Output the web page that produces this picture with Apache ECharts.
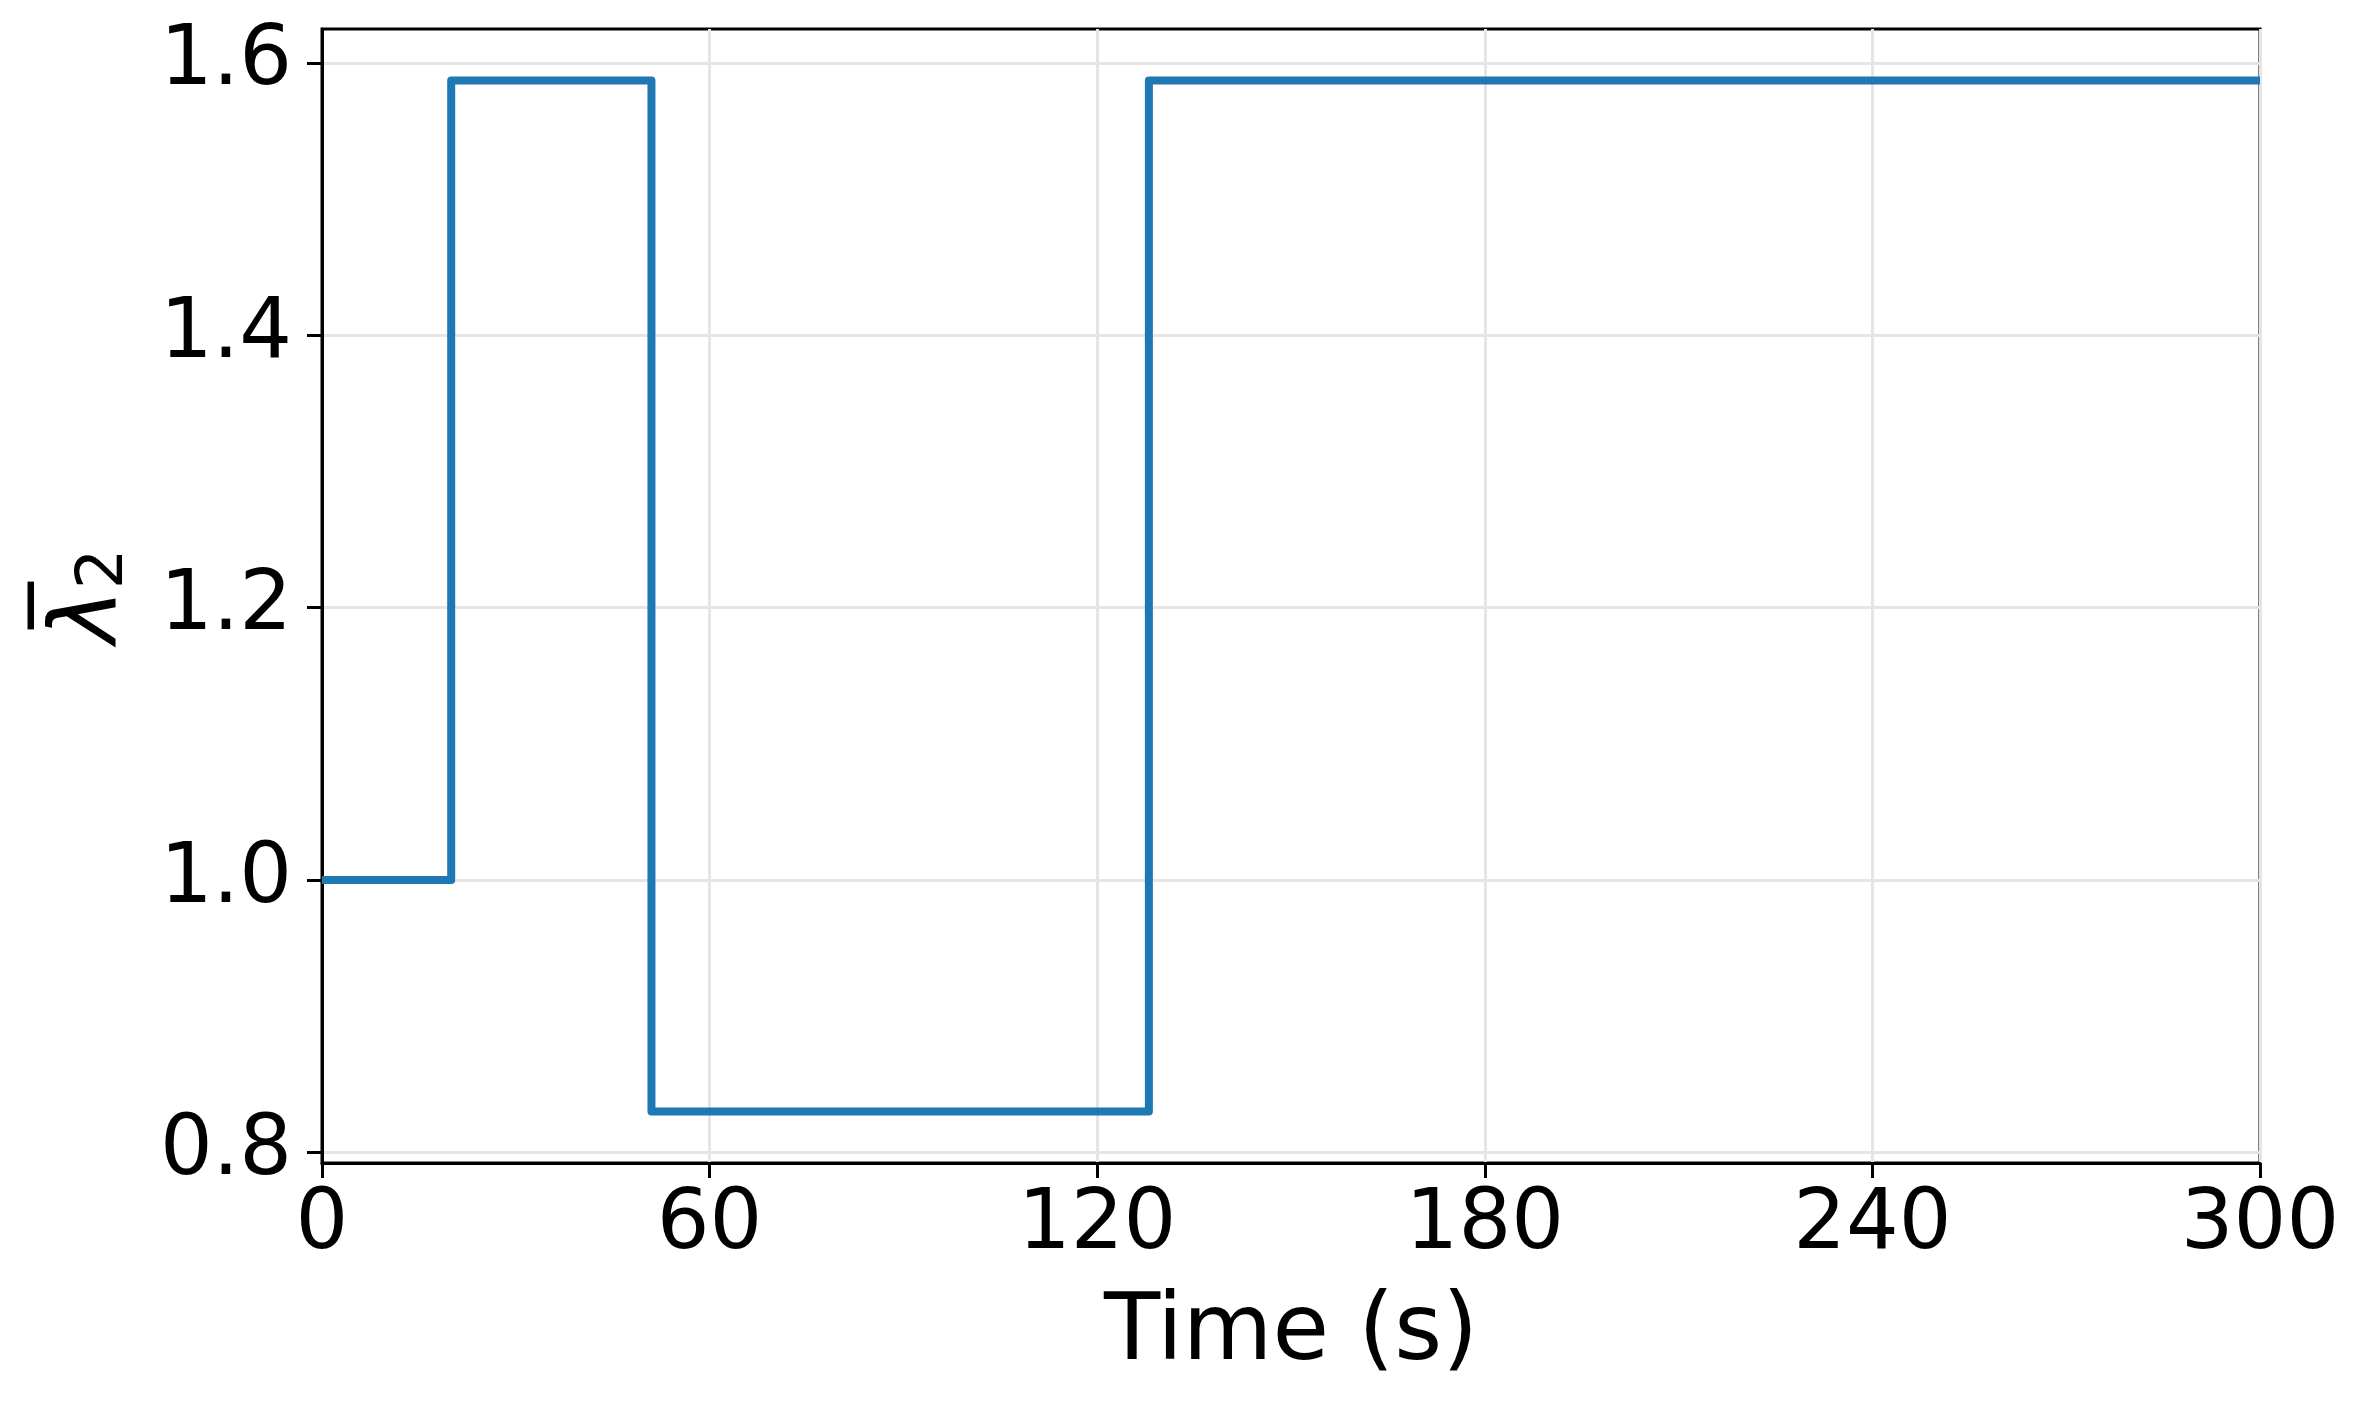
<!DOCTYPE html>
<html>
<head>
<meta charset="utf-8">
<script src="https://cdn.jsdelivr.net/npm/echarts@6/dist/echarts.min.js"></script>
<style>
  html, body { margin: 0; padding: 0; background: #fff; }
  #chart { width: 2369px; height: 1411px; }
</style>
</head>
<body>
<div id="chart"></div>
<script>
// switching times (s) and the value held from each time on
const times = [0, 20, 51, 128, 300];
const lambdaValues = [1.0, 1.587, 0.83, 1.587, 1.587];
const yTicks = [0.8, 1.0, 1.2, 1.4, 1.6];

const FONT = 'DejaVu Sans';
const lineColor = '#1f77b4';

const chart = echarts.init(document.getElementById('chart'));

const option = {
  backgroundColor: '#fff',
  animation: false,
  grid: {
    left: 322, right: 109, top: 29, bottom: 248,
    show: true,
    borderColor: '#000',
    borderWidth: 3
  },
  xAxis: {
    type: 'value',
    min: 0,
    max: 300,
    interval: 60,
    name: 'Time (s)',
    nameLocation: 'middle',
    nameGap: 126,
    nameTextStyle: { fontFamily: FONT, fontSize: 92, color: '#000' },
    axisLine: { show: true, onZero: false, lineStyle: { color: '#000', width: 3 } },
    axisTick: { show: true, inside: false, length: 15, lineStyle: { color: '#000', width: 3 } },
    axisLabel: { fontFamily: FONT, fontSize: 83, color: '#000', margin: 22 },
    splitLine: { show: true, lineStyle: { color: '#e5e5e5', width: 3 } }
  },
  yAxis: {
    type: 'value',
    // matplotlib-style 5% margins around the data range
    min: 0.79215,
    max: 1.62485,
    name: '{l|λ\u0305}{s|2}',
    nameLocation: 'middle',
    nameRotate: 90,
    nameGap: 185,
    nameTextStyle: {
      fontFamily: FONT, fontSize: 92, color: '#000',
      rich: {
        l: { fontFamily: FONT, fontSize: 92, lineHeight: 92, fontStyle: 'italic', verticalAlign: 'top', padding: [0, 0, 8, 0] },
        s: { fontFamily: FONT, fontSize: 64, lineHeight: 64, verticalAlign: 'bottom' }
      }
    },
    axisLine: { show: true, onZero: false, lineStyle: { color: '#000', width: 3 } },
    axisTick: { show: true, inside: false, length: 15, customValues: yTicks, lineStyle: { color: '#000', width: 3 } },
    axisLabel: {
      fontFamily: FONT, fontSize: 83, color: '#000', margin: 30,
      customValues: yTicks,
      formatter: v => v.toFixed(1)
    },
    splitLine: { show: true, lineStyle: { color: '#e5e5e5', width: 3 } }
  },
  series: [
    {
      type: 'line',
      step: 'end',
      data: times.map((t, i) => [t, lambdaValues[i]]),
      showSymbol: false,
      lineStyle: { color: lineColor, width: 8, join: 'round' },
      z: 3
    }
  ]
};

chart.setOption(option);
</script>
</body>
</html>
